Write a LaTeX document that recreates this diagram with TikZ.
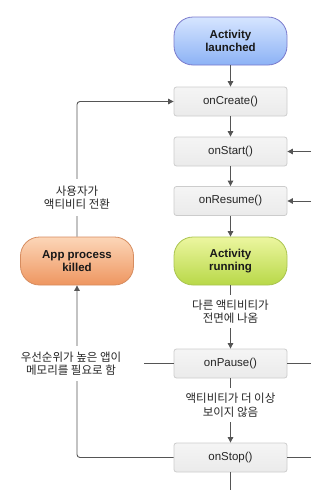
\documentclass[tikz,border=0pt]{standalone}
\usepackage{fontspec}
\setmainfont{Liberation Sans}
\newfontfamily\kofont{Noto Sans CJK KR}
\usetikzlibrary{arrows.meta}
\definecolor{linec}{HTML}{555555}
\definecolor{boxborder}{HTML}{CCCCCC}
\tikzset{
  stepbox/.style={draw=boxborder, line width=0.8pt, rounded corners=2.5pt, top color=white!96!black, bottom color=white!92!black,
    minimum width=113pt, minimum height=29pt, inner sep=0pt, font=\fontsize{11.5}{13}\selectfont, text=black!85},
  capsule/.style={line width=0.8pt, rounded corners=19pt, minimum width=113pt, minimum height=48pt, inner sep=0pt,
    align=center, font=\fontsize{11.5}{13}\selectfont\bfseries, text=black!90},
  bluecap/.style={capsule, draw=blue!40!white!80!black, top color={rgb,255:red,214;green,229;blue,255}, bottom color={rgb,255:red,140;green,178;blue,245}},
  orangecap/.style={capsule, draw={rgb,255:red,214;green,140;blue,95}, top color={rgb,255:red,252;green,214;blue,184}, bottom color={rgb,255:red,238;green,150;blue,96}},
  greencap/.style={capsule, draw={rgb,255:red,170;green,196;blue,80}, top color={rgb,255:red,236;green,246;blue,160}, bottom color={rgb,255:red,184;green,216;blue,72}},
  lbl/.style={fill=white, align=center, inner xsep=2pt, inner ysep=5pt, font=\kofont\fontsize{11.5}{13.5}\selectfont, text=black!85},
  conn/.style={draw=linec, line width=0.9pt},
  arr/.style={conn, -{Triangle[length=5.5pt,width=5.5pt]}},
}
\begin{document}
\begin{tikzpicture}[x=1pt,y=-1pt]
\useasboundingbox (0,0) rectangle (311,490);
% nodes
\node[bluecap] (launched) at (230.5,41) {Activity\\launched};
\node[stepbox] (create) at (230.5,101.5) {onCreate()};
\node[stepbox] (start) at (230.5,151.5) {onStart()};
\node[stepbox] (resume) at (230.5,201) {onResume()};
\node[greencap] (running) at (230.5,261) {Activity\\running};
\node[stepbox] (pause) at (230.5,363.5) {onPause()};
\node[stepbox] (stop) at (230.5,457.5) {onStop()};
\node[orangecap] (killed) at (77,261) {App process\\killed};
% edge coordinates
\coordinate (rStart) at (311,151.5);
\coordinate (rResume) at (311,201);
\coordinate (rPause) at (311,363.5);
\coordinate (rStop) at (311,457.5);
\coordinate (bStop) at (230.5,490);
\coordinate (stub) at (144,363.5);
% main chain
\draw[arr] (launched) -- (create);
\draw[arr] (create) -- (start);
\draw[arr] (start) -- (resume);
\draw[arr] (resume) -- (running);
\draw[arr] (running) -- (pause);
\draw[arr] (pause) -- (stop);
% right side
\draw[arr] (rStart) -- (start.east);
\draw[arr] (rResume) -- (resume.east);
\draw[conn] (pause.east) -- (rPause);
\draw[conn] (stop.east) -- (rStop);
\draw[conn] (stop.south) -- (bStop);
% left side
\draw[arr, rounded corners=3pt] (stop.west) -| (killed.south);
\draw[arr, rounded corners=3pt] (killed.north) |- (create.west);
\draw[conn] (pause.west) -- (stub);
% labels
\node[lbl] (l1) at (230.5,311.5) {다른 액티비티가\\전면에 나옴};
\node[lbl] (l2) at (230.5,405) {액티비티가 더 이상\\보이지 않음};
\node[lbl, inner ysep=7pt] (l3) at (77,197.5) {사용자가\\액티비티 전환};
\node[lbl, inner ysep=6pt] (l4) at (71,363.5) {우선순위가 높은 앱이\\메모리를 필요로 함};
\end{tikzpicture}
\end{document}
